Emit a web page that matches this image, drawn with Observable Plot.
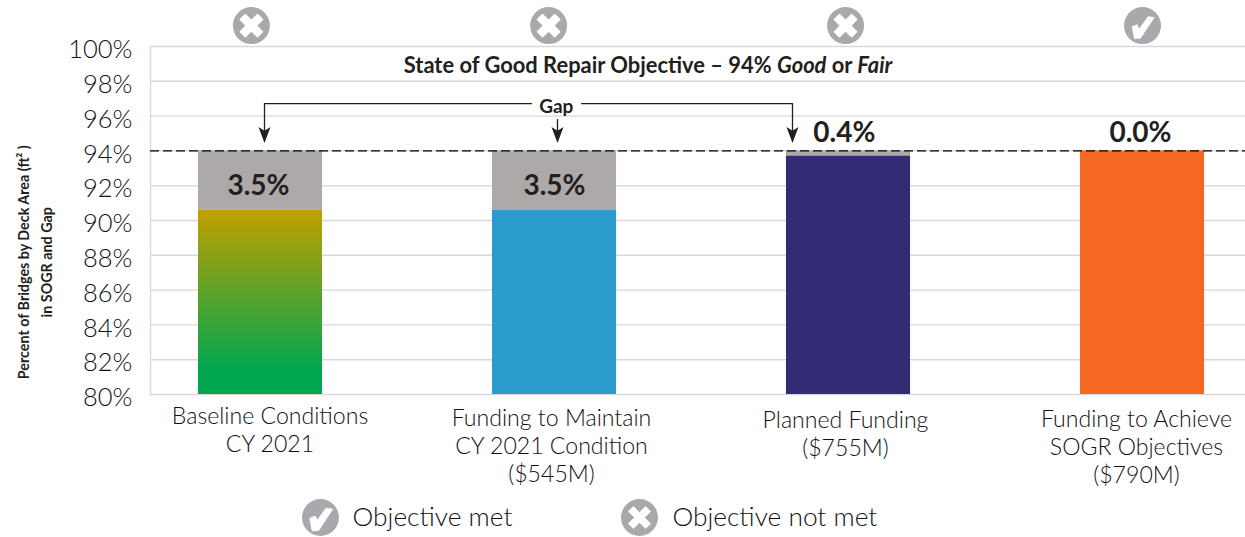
<!DOCTYPE html>
<html><head><meta charset="utf-8">
<script src="https://cdn.jsdelivr.net/npm/d3@7"></script>
<script src="https://cdn.jsdelivr.net/npm/@observablehq/plot@0.6"></script>
<style>html,body{margin:0;background:#fff}svg{display:block}</style>
</head><body><div id="c"></div>
<script>
const categories = ["Baseline Conditions\nCY 2021","Funding to Maintain\nCY 2021 Condition\n($545M)","Planned Funding\n($755M)","Funding to Achieve\nSOGR Objectives\n($790M)"];
const inSogr = [90.6, 90.6, 93.7, 94];
const objective = 94;
const gapLabels = ["3.5%","3.5%","0.4%","0.0%"];
const labelX = [-0.007,1,1.986,2.993];
const labelY = [92.0,92.0,95.0,95.0];
const barColors = ["url(#baseGrad)","#2A9BCB","#312C74","#F56822"];
const met = [false,false,false,true];
const iconX = [-0.031,0.98,1.99,3];
const yTicks = d3.range(80,101,2);
const FONT = "Lato, sans-serif", INK = "#231F20", GREY="#A7A9AC";

const idx = categories.map((_,i)=>i);
const half = 0.211;
const crossSym = {draw(c,size){const r=Math.sqrt(size/Math.PI),a=r*0.6,w=r*0.27;
  const pts=[[-a,-a+w],[-a+w,-a],[0,-w],[a-w,-a],[a,-a+w],[w,0],[a,a-w],[a-w,a],[0,w],[-a+w,a],[-a,a-w],[-w,0]];
  pts.forEach((p,i)=>i?c.lineTo(p[0],p[1]):c.moveTo(p[0],p[1]));c.closePath();}};
const checkSym = {draw(c,size){const r=Math.sqrt(size/Math.PI);
  const pts=[[-.58,.05],[-.28,-.08],[-.18,.15],[.3,-.5],[.66,-.45],[-.1,.7],[-.45,.72]];
  pts.forEach((p,i)=>i?c.lineTo(p[0]*r,p[1]*r):c.moveTo(p[0]*r,p[1]*r));c.closePath();}};
const arrowSym = {draw(c,size){const r=Math.sqrt(size/Math.PI);
  c.moveTo(0,r);c.lineTo(-r*.75,-r);c.lineTo(0,-r*.55);c.lineTo(r*.75,-r);c.closePath();}};
const pct = d=>d+"%";

const arrows = [0.0136,1.0102,1.8095];
const arrowTop = 96.72, arrowTip = 94.91;
const legendY = 72.93;
const legendItems=[{x:0.204,tx:0.313,sym:checkSym,label:"Objective met"},{x:1.289,tx:1.401,sym:crossSym,label:"Objective not met"}];

const gradient = () => {
  const ns="http://www.w3.org/2000/svg", defs=document.createElementNS(ns,"defs");
  defs.innerHTML=`<linearGradient id="baseGrad" x1="0" y1="0" x2="0" y2="1"><stop offset="0" stop-color="#C29F00"/><stop offset="0.87" stop-color="#00A650"/><stop offset="1" stop-color="#00A650"/></linearGradient>`;
  return defs;
};
const columnDx = [9.5,-3,-3,-6];
const columnDy = [-1,1,3,2];

const plot = Plot.plot({
  width:1245,height:537,marginLeft:150,marginRight:0,marginTop:46,marginBottom:143,
  style:{fontFamily:FONT,background:"#fff",overflow:"visible"},
  x:{domain:[0,3],range:[260,1142],axis:null},
  y:{domain:[80,100],axis:null},
  marks:[
    gradient,
    Plot.ruleY(yTicks,{stroke:"#D9D9D9",strokeWidth:1.4}),
    Plot.frame({anchor:"left",stroke:"#D9D9D9",strokeWidth:1.4}),
    Plot.axisY({ticks:yTicks,tickFormat:pct,tickSize:0,tickPadding:18,dy:3.5,fontSize:25.5,fontWeight:300,fill:"#111",label:null}),
    idx.map(i=>Plot.axisX({ticks:[i],tickFormat:k=>categories[k],tickSize:0,tickPadding:11,dx:columnDx[i],dy:columnDy[i],fontSize:23.1,fontWeight:300,lineHeight:1.2,fill:"#111",label:null,lineAnchor:"top"})),
    Plot.text(["Percent of Bridges by Deck Area (ft² )\nin SOGR and Gap"],{frameAnchor:"left",textAnchor:"middle",dx:-117,y:[87.6],rotate:-90,fontSize:14.3,fontWeight:700,fill:INK,lineHeight:1.6}),
    Plot.rect(idx,{x1:i=>i-half,x2:i=>i+half,y1:i=>inSogr[i],y2:objective,fill:"#ADA9A9"}),
    Plot.rect(idx,{x1:i=>i-half,x2:i=>i+half,y1:80,y2:i=>inSogr[i],fill:i=>barColors[i]}),
    Plot.ruleY([objective],{stroke:"#000",strokeWidth:1.4,strokeDasharray:"9 4"}),
    Plot.text(idx,{x:i=>labelX[i],y:i=>labelY[i],text:i=>gapLabels[i],fontSize:28,fontWeight:700,fill:INK}),
    Plot.text(["State of Good Repair Objective – 94% Good or Fair"],{x:[1.318],y:[98.9],fontSize:21.9,fontWeight:700,fill:INK,
      render(index,scales,values,dim,ctx,next){const g=next(index,scales,values,dim,ctx);
        d3.select(g).selectAll("text").html('State of Good Repair Objective – 94% <tspan font-style="italic">Good</tspan> or <tspan font-style="italic">Fair</tspan>');return g;}}),
    Plot.ruleY([arrowTop],{x1:[arrows[0]],x2:[0.925],stroke:INK,strokeWidth:1.3}),
    Plot.ruleY([arrowTop],{x1:[1.092],x2:[arrows[2]],stroke:INK,strokeWidth:1.3}),
    Plot.ruleX([arrows[0],arrows[2]],{y1:arrowTop,y2:arrowTip,stroke:INK,strokeWidth:1.3}),
    Plot.ruleX([arrows[1]],{y1:95.8,y2:arrowTip,stroke:INK,strokeWidth:1.3}),
    Plot.dot(arrows,{x:d=>d,y:arrowTip,r:8,symbol:arrowSym,fill:INK,stroke:"none"}),
    Plot.text(["Gap"],{x:[1.006],y:[96.5],fontSize:19,fontWeight:700,fill:INK}),
    Plot.dot(idx,{x:i=>iconX[i],y:101.2,r:18.5,fill:GREY,stroke:"none"}),
    Plot.dot(idx.filter(i=>!met[i]),{x:i=>iconX[i],y:101.2,r:18.5,symbol:crossSym,fill:"#fff",stroke:"#fff",strokeWidth:1.5,strokeLinejoin:"round"}),
    Plot.dot(idx.filter(i=>met[i]),{x:i=>iconX[i],y:101.2,r:18.5,symbol:checkSym,fill:"#fff",stroke:"none"}),
    Plot.dot(legendItems,{x:"x",y:legendY,r:18.5,fill:GREY,stroke:"none"}),
    Plot.dot(legendItems,{x:"x",y:legendY,r:18.5,symbol:"sym",fill:"#fff",stroke:"#fff",strokeWidth:0.8,strokeLinejoin:"round"}),
    Plot.text(legendItems,{x:"tx",y:legendY,text:"label",textAnchor:"start",fontSize:26.3,fontWeight:300,fill:"#111"})
  ]
});
document.getElementById("c").append(plot);
</script></body></html>
